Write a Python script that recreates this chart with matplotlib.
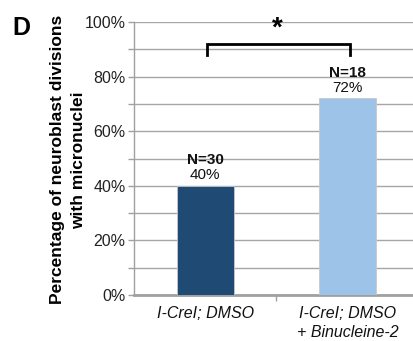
import matplotlib.pyplot as plt
import numpy as np

plt.rcParams['font.family'] = ['Liberation Sans', 'DejaVu Sans']

categories = ['I-CreI; DMSO', 'I-CreI; DMSO\n+ Binucleine-2']
values = [40, 72]
n_labels = ['N=30', 'N=18']
colors = ['#1F4A74', '#9DC3E8']

fig = plt.figure(figsize=(4.13, 3.41), dpi=100)
# axes spans past the right edge, as in the original crop
ax = fig.add_axes([134 / 413, 1 - 295 / 341, 284.5 / 413, 273 / 341])

x = np.arange(len(categories))
ax.bar(x, values, width=0.4, color=colors, edgecolor='#C8C8C8', linewidth=0.6, zorder=3)

ax.set_xlim(-0.5, 1.5)
ax.set_ylim(0, 100)
ax.set_yticks(np.arange(0, 101, 20))
ax.set_yticks(np.arange(0, 101, 10), minor=True)
ax.set_yticklabels([f'{v}%' for v in range(0, 101, 20)], fontsize=11.5, color='#222222')
ax.yaxis.grid(True, which='both', color='#A6A6A6', linewidth=1.0, zorder=0)
ax.tick_params(axis='y', which='both', length=4, width=1, color='#A0A0A0', pad=2)

ax.set_xticks(x)
ax.set_xticklabels(categories, fontsize=11.5, style='italic', color='#111111', linespacing=1.3)
ax.set_xticks([0.5], minor=True)
ax.tick_params(axis='x', which='major', length=0, pad=8)
ax.tick_params(axis='x', which='minor', length=4, width=1, color='#A0A0A0')

for s in ['top', 'right']:
    ax.spines[s].set_visible(False)
ax.spines['left'].set_color('#A0A0A0')
ax.spines['left'].set_linewidth(1.0)
ax.spines['bottom'].set_color('#A0A0A0')
ax.spines['bottom'].set_linewidth(2.0)

for xi, v, n in zip(x, values, n_labels):
    ax.text(xi, v + 9.5, n, ha='center', va='center', fontsize=11, fontweight='bold', color='#111111')
    ax.text(xi, v + 3.8, f'{v}%', ha='center', va='center', fontsize=11, color='#111111')

# significance bracket
ax.plot([0.015, 0.015, 1.02, 1.02], [88, 92, 92, 88], color='black', linewidth=2.0,
        solid_joinstyle='miter', clip_on=False, zorder=4)
ax.text(0.51, 97.5, '*', ha='center', va='center', fontsize=20, fontweight='bold')

ax.set_ylabel('Percentage of neuroblast divisions\nwith micronuclei', fontsize=12.5,
              fontweight='bold', labelpad=-1, linespacing=1.5)
ax.yaxis.label.set_y(0.495)

fig.text(12 / 413, 1 - 28 / 341, 'D', fontsize=18, fontweight='bold', va='center', ha='left')

plt.savefig('out.png', dpi=100)
plt.close()
